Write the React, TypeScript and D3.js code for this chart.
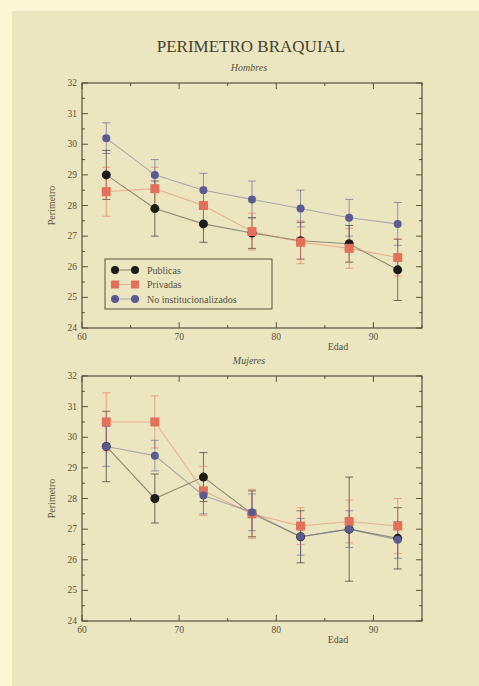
import * as d3 from "d3";

const ages = [62.5, 67.5, 72.5, 77.5, 82.5, 87.5, 92.5];
const seriesNames = ["Publicas", "Privadas", "No institucionalizados"];

const hombresPublicas = [29.0, 27.9, 27.4, 27.1, 26.85, 26.75, 25.9];
const hombresPublicasErr = [0.8, 0.9, 0.6, 0.5, 0.6, 0.6, 1.0];
const hombresPrivadas = [28.45, 28.55, 28.0, 27.15, 26.8, 26.6, 26.3];
const hombresPrivadasErr = [0.8, 0.7, 0.6, 0.6, 0.7, 0.65, 0.6];
const hombresNoInst = [30.2, 29.0, 28.5, 28.2, 27.9, 27.6, 27.4];
const hombresNoInstErr = [0.5, 0.5, 0.55, 0.6, 0.6, 0.6, 0.7];

const mujeresPublicas = [29.7, 28.0, 28.7, 27.5, 26.75, 27.0, 26.7];
const mujeresPublicasErr = [1.15, 0.8, 0.8, 0.75, 0.85, 1.7, 1.0];
const mujeresPrivadas = [30.5, 30.5, 28.25, 27.5, 27.1, 27.25, 27.1];
const mujeresPrivadasErr = [0.95, 0.85, 0.8, 0.8, 0.6, 0.7, 0.9];
const mujeresNoInst = [29.7, 29.4, 28.1, 27.55, 26.75, 27.0, 26.65];
const mujeresNoInstErr = [0.65, 0.5, 0.6, 0.6, 0.6, 0.6, 0.6];

const yTicks = [24, 25, 26, 27, 28, 29, 30, 31, 32];
const xTicks = [60, 70, 80, 90];

const colors = ["#1c1c18", "#e2705a", "#5c5a92"];
const ink = "#57533d";
const serif = "'Liberation Serif', 'DejaVu Serif', serif";

type Series = { values: number[]; errors: number[] };

function Panel({ top, bottom, subtitle, series, legend }: { top: number; bottom: number; subtitle: string; series: Series[]; legend?: boolean }) {
  const x = d3.scaleLinear().domain([60, 95]).range([82, 422]);
  const y = d3.scaleLinear().domain([24, 32]).range([bottom, top]);
  const [x0, x1] = x.range();
  const line = d3.line<number>().x((_, i) => x(ages[i])).y((v) => y(v));
  const minorY = d3.range(24, 32.01, 0.5);
  const minorX = d3.range(60, 95.01, 5);

  return (
    <g>
      <text x={249} y={top - 12} textAnchor="middle" fontSize={10} fontStyle="italic" fill={ink} fontFamily={serif}>{subtitle}</text>
      <rect x={x0} y={top} width={x1 - x0} height={bottom - top} fill="none" stroke={ink} strokeWidth={1.2} />
      {minorY.map((v) => {
        const major = Number.isInteger(v);
        const len = major ? 6 : 3;
        return (
          <g key={v}>
            <line x1={x0} x2={x0 + len} y1={y(v)} y2={y(v)} stroke={ink} />
            <line x1={x1} x2={x1 - len} y1={y(v)} y2={y(v)} stroke={ink} />
          </g>
        );
      })}
      {minorX.map((v) => {
        const len = v % 10 === 0 ? 6 : 3;
        return (
          <g key={v}>
            <line x1={x(v)} x2={x(v)} y1={bottom} y2={bottom - len} stroke={ink} />
            <line x1={x(v)} x2={x(v)} y1={top} y2={top + len} stroke={ink} />
          </g>
        );
      })}
      {yTicks.map((v) => (
        <text key={v} x={x0 - 5} y={y(v) + 3} textAnchor="end" fontSize={9.5} fill={ink} fontFamily={serif}>{v}</text>
      ))}
      {xTicks.map((v) => (
        <text key={v} x={x(v)} y={bottom + 12} textAnchor="middle" fontSize={9.5} fill={ink} fontFamily={serif}>{v}</text>
      ))}
      <text x={338} y={bottom + 22} textAnchor="middle" fontSize={10} fill={ink} fontFamily={serif}>Edad</text>
      <text transform={`translate(55, ${(top + bottom) / 2}) rotate(-90)`} textAnchor="middle" fontSize={10} fill={ink} fontFamily={serif}>Perimetro</text>
      {series.map((s, si) => (
        <path key={si} d={line(s.values) ?? ""} fill="none" stroke={colors[si]} strokeOpacity={0.45} strokeWidth={1.1} />
      ))}
      {series.map((s, si) => (
        <g key={si} stroke={colors[si]} strokeOpacity={0.6} strokeWidth={1}>
          {s.values.map((v, i) => (
            <g key={i}>
              <line x1={x(ages[i])} x2={x(ages[i])} y1={y(v - s.errors[i])} y2={y(v + s.errors[i])} />
              <line x1={x(ages[i]) - 4} x2={x(ages[i]) + 4} y1={y(v - s.errors[i])} y2={y(v - s.errors[i])} />
              <line x1={x(ages[i]) - 4} x2={x(ages[i]) + 4} y1={y(v + s.errors[i])} y2={y(v + s.errors[i])} />
            </g>
          ))}
        </g>
      ))}
      {series.map((s, si) => (
        <g key={si} fill={colors[si]}>
          {s.values.map((v, i) =>
            si === 1 ? (
              <rect key={i} x={x(ages[i]) - 4.5} y={y(v) - 4.5} width={9} height={9} />
            ) : (
              <circle key={i} cx={x(ages[i])} cy={y(v)} r={si === 0 ? 4.5 : 4} />
            )
          )}
        </g>
      ))}
      {legend && (
        <g>
          <rect x={105} y={259} width={167} height={50} fill="none" stroke={ink} strokeWidth={1} />
          {seriesNames.map((name, si) => {
            const ly = 270 + si * 14.5;
            return (
              <g key={name}>
                <line x1={115} x2={135} y1={ly} y2={ly} stroke={colors[si]} strokeOpacity={0.5} />
                {[115, 135].map((lx) =>
                  si === 1 ? (
                    <rect key={lx} x={lx - 4} y={ly - 4} width={8} height={8} fill={colors[si]} />
                  ) : (
                    <circle key={lx} cx={lx} cy={ly} r={4} fill={colors[si]} />
                  )
                )}
                <text x={147} y={ly + 3.5} fontSize={10} fill={ink} fontFamily={serif}>{name}</text>
              </g>
            );
          })}
        </g>
      )}
    </g>
  );
}

export default function App() {
  const hombres: Series[] = [
    { values: hombresPublicas, errors: hombresPublicasErr },
    { values: hombresPrivadas, errors: hombresPrivadasErr },
    { values: hombresNoInst, errors: hombresNoInstErr },
  ];
  const mujeres: Series[] = [
    { values: mujeresPublicas, errors: mujeresPublicasErr },
    { values: mujeresPrivadas, errors: mujeresPrivadasErr },
    { values: mujeresNoInst, errors: mujeresNoInstErr },
  ];
  return (
    <svg width={479} height={686} style={{ position: "absolute", left: 0, top: 0 }}>
      <rect width={479} height={686} fill="#fdf6d4" />
      <rect x={12} y={11} width={467} height={675} fill="#ece6c0" />
      <text x={251} y={52} textAnchor="middle" fontSize={17} fill="#45422f" fontFamily={serif}>PERIMETRO BRAQUIAL</text>
      <Panel top={83} bottom={328} subtitle="Hombres" series={hombres} legend />
      <Panel top={376} bottom={621} subtitle="Mujeres" series={mujeres} />
    </svg>
  );
}
